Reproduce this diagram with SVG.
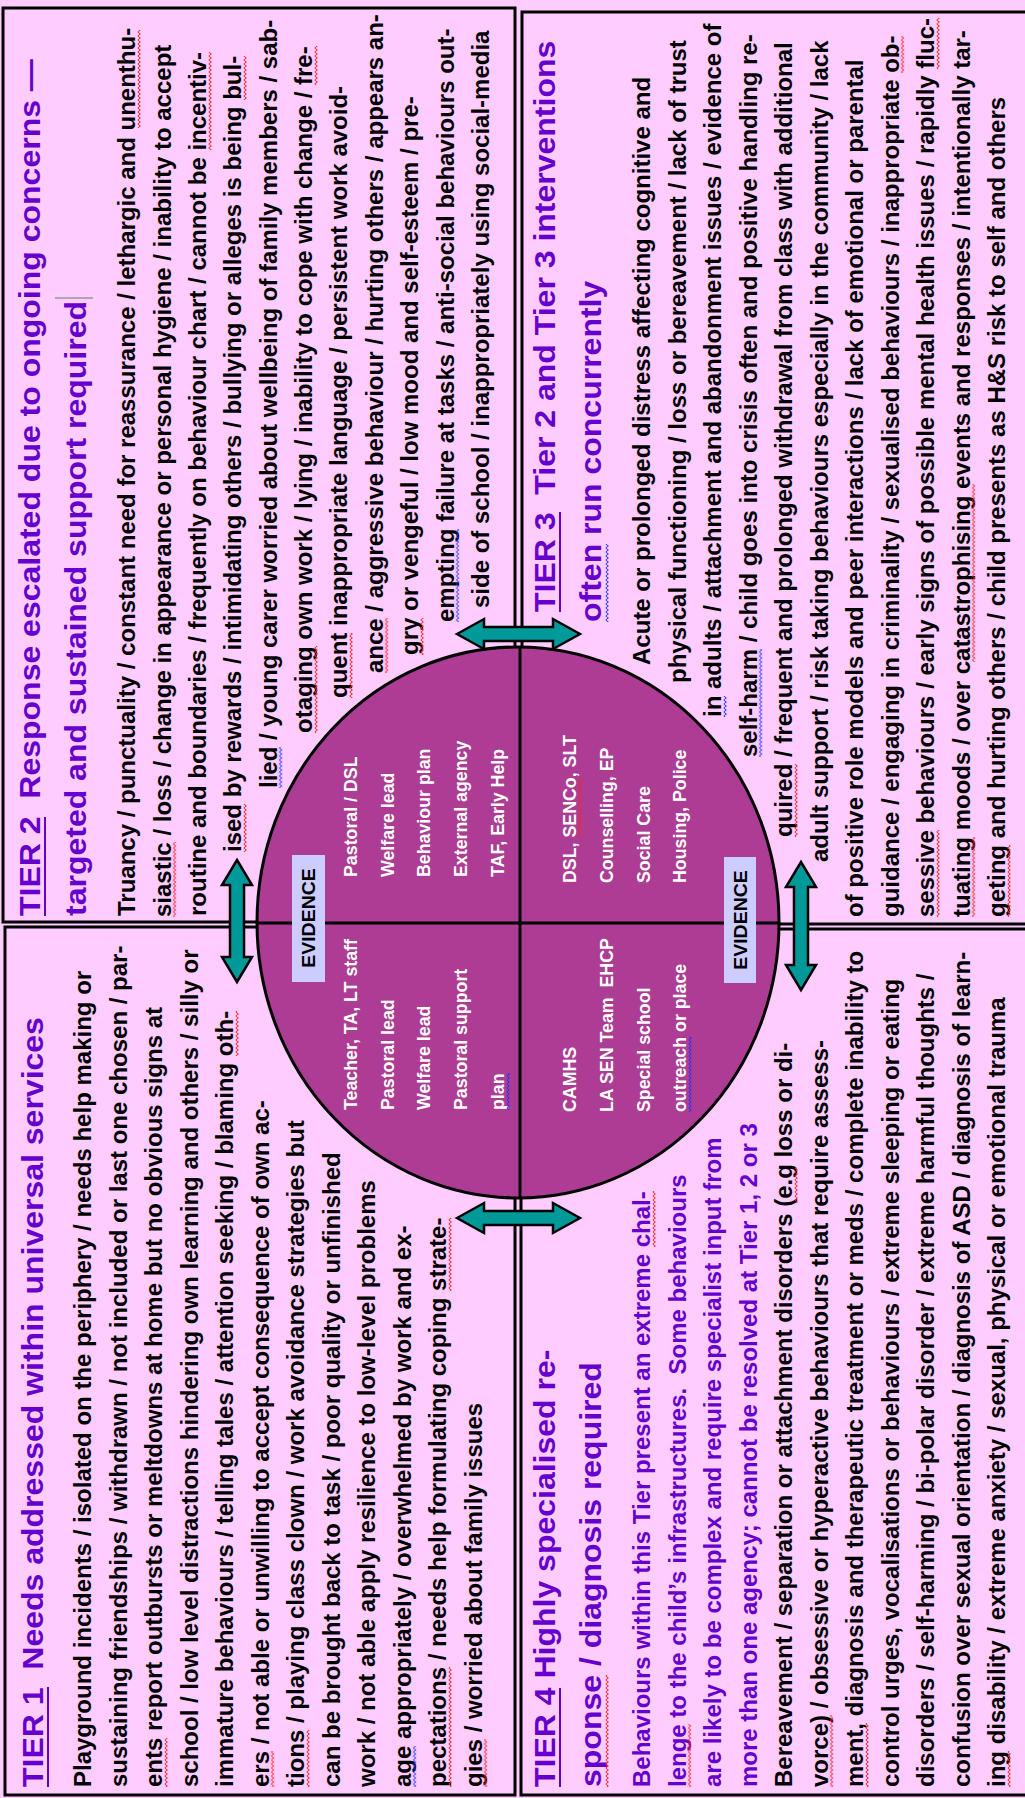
<svg xmlns="http://www.w3.org/2000/svg" width="1025" height="1798" viewBox="0 0 1025 1798">
<defs>
<style>
text{font-family:"Liberation Sans",Arial,sans-serif;font-weight:bold}
.b{font-size:24px;fill:#000}
.h{font-size:32px;fill:#6600cc}
.p{font-size:24px;fill:#6600cc}
.w{font-size:17.8px;fill:#fff}
.e{font-size:19.5px;fill:#000;text-anchor:middle}
.box{fill:none;stroke:#000;stroke-width:3}
.ul{stroke:#6600cc;stroke-width:2}
.arr{fill:#009999;stroke:#000;stroke-width:2.5}
.ev{fill:#ccccff}
.sr{fill:url(#sr)}
.sb{fill:url(#sb)}
</style>
<pattern id="sr" width="4" height="4" patternUnits="userSpaceOnUse"><path d="M0.6 0L3.4 2L0.6 4" fill="none" stroke="#ff2020" stroke-width="1"/></pattern>
<pattern id="sb" width="4" height="4" patternUnits="userSpaceOnUse"><path d="M0.6 0L3.4 2L0.6 4" fill="none" stroke="#2030ff" stroke-width="1"/></pattern>
</defs>
<rect x="0" y="0" width="1025" height="1798" fill="#ffccff"/>
<g id="frames">
<rect class="box" x="3" y="8" width="512" height="914"/>
<rect class="box" x="5" y="927" width="510" height="868"/>
<rect class="box" x="522" y="12" width="510" height="912"/>
<rect class="box" x="521" y="929" width="511" height="866"/>
</g>
<g id="hub">
<ellipse cx="518" cy="922.5" rx="261" ry="275.5" fill="#ad3c94" stroke="#000" stroke-width="3"/>
<line x1="520" y1="647" x2="520" y2="1198" stroke="#000" stroke-width="3"/>
<line x1="257" y1="923" x2="779" y2="923" stroke="#000" stroke-width="3"/>
<rect class="ev" x="292" y="855" width="33" height="127"/>
<text class="e" transform="matrix(0 -1 0.96 0 315 918)">EVIDENCE</text>
<rect class="ev" x="724" y="857" width="32" height="126"/>
<text class="e" transform="matrix(0 -1 0.96 0 747 920)">EVIDENCE</text>
<text class="w" transform="matrix(0 -1 1 0 357 877)">Pastoral / DSL</text>
<text class="w" transform="matrix(0 -1 1 0 393.5 877)">Welfare lead</text>
<text class="w" transform="matrix(0 -1 1 0 430 877)">Behaviour plan</text>
<text class="w" transform="matrix(0 -1 1 0 466.5 877)">External agency</text>
<text class="w" transform="matrix(0 -1 1 0 504 877)">TAF, Early Help</text>
<text class="w" transform="matrix(0 -1 1 0 357 1110)">Teacher, TA, LT staff</text>
<text class="w" transform="matrix(0 -1 1 0 393.5 1110)">Pastoral lead</text>
<text class="w" transform="matrix(0 -1 1 0 430 1110)">Welfare lead</text>
<text class="w" transform="matrix(0 -1 1 0 466.5 1110)">Pastoral support</text>
<text class="w" transform="matrix(0 -1 1 0 504 1110)">plan</text>
<text class="w" transform="matrix(0 -1 1 0 576 883)">DSL, SENCo, SLT</text>
<text class="w" transform="matrix(0 -1 1 0 612.5 883)">Counselling, EP</text>
<text class="w" transform="matrix(0 -1 1 0 649.5 883)">Social Care</text>
<text class="w" transform="matrix(0 -1 1 0 686 883)">Housing, Police</text>
<text class="w" transform="matrix(0 -1 1 0 576 1112)">CAMHS</text>
<text class="w" xml:space="preserve" transform="matrix(0 -1 1 0 612.5 1112)">LA SEN Team  EHCP</text>
<text class="w" transform="matrix(0 -1 1 0 649.5 1112)">Special school</text>
<text class="w" transform="matrix(0 -1 1 0 686 1112)">outreach or place</text>
</g>
<g id="connectors">
<polygon class="arr" points="457,634 484,619 484,627 553,627 553,619 580,634 553,649 553,641 484,641 484,649"/>
<polygon class="arr" points="457,1218 484,1203 484,1211 553,1211 553,1203 580,1218 553,1233 553,1225 484,1225 484,1233"/>
<polygon class="arr" points="237,860 252,885 244,885 244,957 252,957 237,982 222,957 230,957 230,885 222,885"/>
<polygon class="arr" points="801,862 816,887 808,887 808,965 816,965 801,990 786,965 794,965 794,887 786,887"/>
</g>
<g id="tier2">
<text class="h" xml:space="preserve" transform="matrix(0 -1 0.94 0 40 916)">TIER 2  Response escalated due to ongoing concerns —</text>
<text class="h" transform="matrix(0 -1 0.94 0 86 916)">targeted and sustained support required</text>
<line class="ul" x1="45" y1="817" x2="45" y2="916"/>
<line x1="55" y1="298" x2="93" y2="298" stroke="#999" stroke-width="1.5"/>
<text class="b" transform="matrix(0 -1 1 0 135 916)">Truancy / punctuality / constant need for reassurance / lethargic and unenthu-</text>
<text class="b" transform="matrix(0 -1 1 0 170.5 917)">siastic / loss / change in appearance or personal hygiene / inability to accept</text>
<text class="b" transform="matrix(0 -1 1 0 206 916)">routine and boundaries / frequently on behaviour chart / cannot be incentiv-</text>
<text class="b" transform="matrix(0 -1 1 0 241 852)">ised by rewards / intimidating others / bullying or alleges is being bul-</text>
<text class="b" transform="matrix(0 -1 1 0 276.5 788)">lied / young carer worried about wellbeing of family members / sab-</text>
<text class="b" transform="matrix(0 -1 1 0 312 733)">otaging own work / lying / inability to cope with change / fre-</text>
<text class="b" transform="matrix(0 -1 1 0 347 698)">quent inappropriate language / persistent work avoid-</text>
<text class="b" transform="matrix(0 -1 1 0 382.5 673)">ance / aggressive behaviour / hurting others / appears an-</text>
<text class="b" transform="matrix(0 -1 1 0 418 655)">gry or vengeful / low mood and self-esteem / pre-</text>
<text class="b" transform="matrix(0 -1 1 0 453.5 622)">empting failure at tasks / anti-social behaviours out-</text>
<text class="b" transform="matrix(0 -1 1 0 489 608)">side of school / inappropriately using social-media</text>
</g>
<g id="tier1">
<text class="h" xml:space="preserve" transform="matrix(0 -1 0.94 0 43 1787)">TIER 1  Needs addressed within universal services</text>
<line class="ul" x1="48" y1="1687" x2="48" y2="1787"/>
<text class="b" transform="matrix(0 -1 1 0 91 1787)">Playground incidents / isolated on the periphery / needs help making or</text>
<text class="b" transform="matrix(0 -1 1 0 126.5 1787)">sustaining friendships / withdrawn / not included or last one chosen / par-</text>
<text class="b" transform="matrix(0 -1 1 0 162 1787)">ents report outbursts or meltdowns at home but no obvious signs at</text>
<text class="b" transform="matrix(0 -1 1 0 197.5 1787)">school / low level distractions hindering own learning and others / silly or</text>
<text class="b" transform="matrix(0 -1 1 0 233 1787)">immature behaviours / telling tales / attention seeking / blaming oth-</text>
<text class="b" transform="matrix(0 -1 1 0 268.5 1787)">ers / not able or unwilling to accept consequence of own ac-</text>
<text class="b" transform="matrix(0 -1 1 0 304 1787)">tions / playing class clown / work avoidance strategies but</text>
<text class="b" transform="matrix(0 -1 1 0 339.5 1787)">can be brought back to task / poor quality or unfinished</text>
<text class="b" transform="matrix(0 -1 1 0 375 1787)">work / not able apply resilience to low-level problems</text>
<text class="b" transform="matrix(0 -1 1 0 410.5 1787)">age appropriately / overwhelmed by work and ex-</text>
<text class="b" transform="matrix(0 -1 1 0 446 1787)">pectations / needs help formulating coping strate-</text>
<text class="b" transform="matrix(0 -1 1 0 481.5 1787)">gies / worried about family issues</text>
</g>
<g id="tier3">
<text class="h" xml:space="preserve" transform="matrix(0 -1 0.94 0 555 612)">TIER 3  Tier 2 and Tier 3 interventions</text>
<line class="ul" x1="560" y1="512" x2="560" y2="612"/>
<text class="h" transform="matrix(0 -1 0.94 0 601 622)">often run concurrently</text>
<text class="b" transform="matrix(0 -1 1 0 650 665)">Acute or prolonged distress affecting cognitive and</text>
<text class="b" transform="matrix(0 -1 1 0 685.5 683)">physical functioning / loss or bereavement / lack of trust</text>
<text class="b" transform="matrix(0 -1 1 0 721 717)">in adults / attachment and abandonment issues / evidence of</text>
<text class="b" transform="matrix(0 -1 1 0 756.5 757)">self-harm / child goes into crisis often and positive handling re-</text>
<text class="b" transform="matrix(0 -1 1 0 792 837)">quired / frequent and prolonged withdrawal from class with additional</text>
<text class="b" transform="matrix(0 -1 1 0 827.5 862)">adult support / risk taking behaviours especially in the community / lack</text>
<text class="b" transform="matrix(0 -1 1 0 863 917)">of positive role models and peer interactions / lack of emotional or parental</text>
<text class="b" transform="matrix(0 -1 1 0 898.5 917)">guidance / engaging in criminality / sexualised behaviours / inappropriate ob-</text>
<text class="b" transform="matrix(0 -1 1 0 934 917)">sessive behaviours / early signs of possible mental health issues / rapidly fluc-</text>
<text class="b" transform="matrix(0 -1 1 0 969.5 917)">tuating moods / over catastrophising events and responses / intentionally tar-</text>
<text class="b" transform="matrix(0 -1 1 0 1005 917)">geting and hurting others / child presents as H&amp;S risk to self and others</text>
</g>
<g id="tier4">
<text class="h" transform="matrix(0 -1 0.94 0 555 1787)">TIER 4 Highly specialised re-</text>
<line class="ul" x1="560" y1="1688" x2="560" y2="1787"/>
<text class="h" transform="matrix(0 -1 0.94 0 601 1787)">sponse / diagnosis required</text>
<text class="p" transform="matrix(0 -1 1 0 650 1787)">Behaviours within this Tier present an extreme chal-</text>
<text class="p" xml:space="preserve" transform="matrix(0 -1 1 0 685.5 1787)">lenge to the child’s infrastructures.  Some behaviours</text>
<text class="p" transform="matrix(0 -1 1 0 721 1787)">are likely to be complex and require specialist input from</text>
<text class="p" transform="matrix(0 -1 1 0 756.5 1787)">more than one agency; cannot be resolved at Tier 1, 2 or 3</text>
<text class="b" transform="matrix(0 -1 1 0 792 1787)">Bereavement / separation or attachment disorders (e.g loss or di-</text>
<text class="b" transform="matrix(0 -1 1 0 827.5 1787)">vorce) / obsessive or hyperactive behaviours that require assess-</text>
<text class="b" transform="matrix(0 -1 1 0 863 1787)">ment, diagnosis and therapeutic treatment or meds / complete inability to</text>
<text class="b" transform="matrix(0 -1 1 0 898.5 1787)">control urges, vocalisations or behaviours / extreme sleeping or eating</text>
<text class="b" transform="matrix(0 -1 1 0 934 1787)">disorders / self-harming / bi-polar disorder / extreme harmful thoughts /</text>
<text class="b" transform="matrix(0 -1 1 0 969.5 1787)">confusion over sexual orientation / diagnosis of ASD / diagnosis of learn-</text>
<text class="b" transform="matrix(0 -1 1 0 1005 1787)">ing disability / extreme anxiety / sexual, physical or emotional trauma</text>
</g>
<g id="spellmarks">
<rect class="sr" transform="translate(137 0)" y="30" width="4" height="98"/>
<rect class="sr" transform="translate(172.5 0)" y="842" width="4" height="75"/>
<rect class="sr" transform="translate(208 0)" y="52" width="4" height="98"/>
<rect class="sr" transform="translate(243 0)" y="804" width="4" height="48"/>
<rect class="sr" transform="translate(243 0)" y="56" width="4" height="44"/>
<rect class="sr" transform="translate(314 0)" y="646" width="4" height="87"/>
<rect class="sr" transform="translate(314 0)" y="46" width="4" height="39"/>
<rect class="sr" transform="translate(349 0)" y="633" width="4" height="65"/>
<rect class="sr" transform="translate(384.5 0)" y="618" width="4" height="55"/>
<rect class="sr" transform="translate(420 0)" y="618" width="4" height="37"/>
<rect class="sr" transform="translate(164 0)" y="1738" width="4" height="49"/>
<rect class="sr" transform="translate(235 0)" y="1011" width="4" height="45"/>
<rect class="sr" transform="translate(270.5 0)" y="1751" width="4" height="36"/>
<rect class="sr" transform="translate(306 0)" y="1730" width="4" height="57"/>
<rect class="sr" transform="translate(448 0)" y="1667" width="4" height="120"/>
<rect class="sr" transform="translate(448 0)" y="1218" width="4" height="73"/>
<rect class="sr" transform="translate(483.5 0)" y="1739" width="4" height="48"/>
<rect class="sr" transform="translate(794 0)" y="764" width="4" height="73"/>
<rect class="sr" transform="translate(900.5 0)" y="36" width="4" height="37"/>
<rect class="sr" transform="translate(936 0)" y="18" width="4" height="51"/>
<rect class="sr" transform="translate(936 0)" y="830" width="4" height="87"/>
<rect class="sr" transform="translate(971.5 0)" y="837" width="4" height="80"/>
<rect class="sr" transform="translate(971.5 0)" y="484" width="4" height="178"/>
<rect class="sr" transform="translate(1007 0)" y="845" width="4" height="72"/>
<rect class="sr" transform="translate(605 0)" y="1675" width="4" height="112"/>
<rect class="sr" transform="translate(652 0)" y="1191" width="4" height="56"/>
<rect class="sr" transform="translate(687.5 0)" y="1724" width="4" height="63"/>
<rect class="sr" transform="translate(794 0)" y="1168" width="4" height="35"/>
<rect class="sr" transform="translate(829.5 0)" y="1715" width="4" height="72"/>
<rect class="sr" transform="translate(865 0)" y="1723" width="4" height="64"/>
<rect class="sr" transform="translate(1007 0)" y="1751" width="4" height="36"/>
<rect class="sr" transform="translate(578 0)" y="777" width="4" height="61"/>
<rect class="sb" transform="translate(278.5 0)" y="747" width="4" height="41"/>
<rect class="sb" transform="translate(455.5 0)" y="529" width="4" height="93"/>
<rect class="sb" transform="translate(412.5 0)" y="1746" width="4" height="41"/>
<rect class="sb" transform="translate(605 0)" y="544" width="4" height="78"/>
<rect class="sb" transform="translate(723 0)" y="696" width="4" height="21"/>
<rect class="sb" transform="translate(758.5 0)" y="649" width="4" height="108"/>
<rect class="sb" transform="translate(506 0)" y="1073" width="4" height="37"/>
<rect class="sb" transform="translate(688 0)" y="1037" width="4" height="75"/>
</g>
</svg>
